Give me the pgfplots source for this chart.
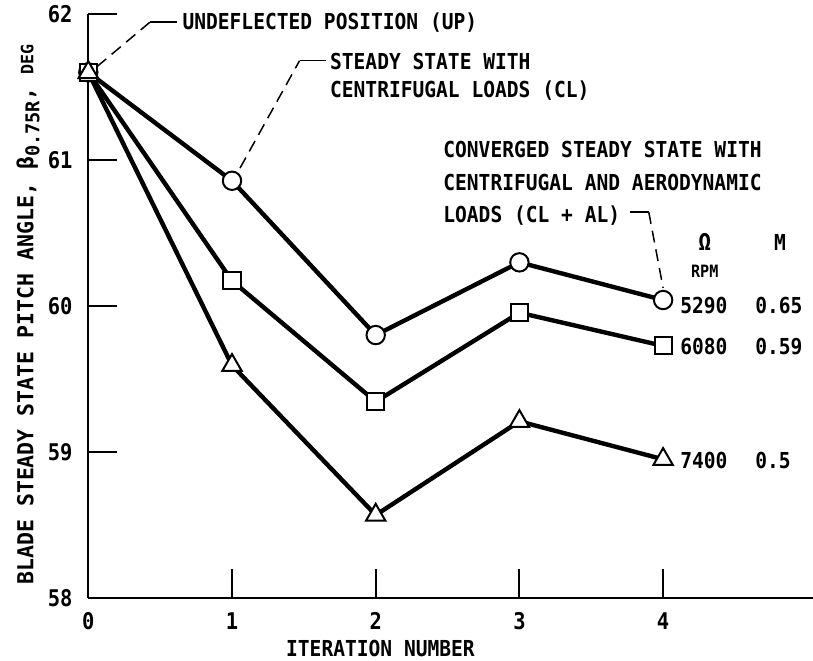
\documentclass[border=0pt]{standalone}
\usepackage{fontspec}
\setmainfont{DejaVu Sans Mono}[FakeStretch=0.89]
\usepackage{pgfplots}
\pgfplotsset{compat=1.18}
\begin{document}
\fontsize{11}{13}\selectfont\bfseries
\begin{tikzpicture}
\useasboundingbox (-44.15pt,-31pt) rectangle (362.35pt,299pt);
\begin{axis}[
  scale only axis, width=362.35pt, height=292pt,
  xmin=0, xmax=5.043, ymin=58, ymax=62,
  axis x line*=bottom, axis y line*=left,
  axis line style={line width=1pt,-},
  xtick={0,1,2,3,4}, ytick={58,59,60,61,62},
  tick align=inside, major tick length=14.5pt,
  tick style={line width=1pt, black},
  /pgf/number format/assume math mode=true,
  ticklabel style={font=\fontsize{11.5}{13}\selectfont\bfseries},
  xticklabel style={yshift=-3.5pt},
  yticklabel style={xshift=-4pt},
  clip=false,
  every axis plot/.append style={line width=2.2pt, black},
]
\addplot[mark=*, mark size=4.6pt, mark options={fill=white, line width=1pt, solid}]
  coordinates {(0,61.60) (1,60.858) (2,59.801) (3,60.299) (4,60.041)};
\addplot[mark=square*, mark size=4.3pt, mark options={fill=white, line width=1pt, solid}]
  coordinates {(0,61.60) (1,60.173) (2,59.345) (3,59.954) (4,59.727)};
\addplot[mark=triangle*, mark size=5.6pt, mark options={fill=white, line width=1pt, solid}]
  coordinates {(0,61.60) (1,59.594) (2,58.568) (3,59.21) (4,58.95)};

% annotation 1
\draw[line width=0.75pt, dash pattern=on 6pt off 3.5pt] (axis cs:0.061,61.64) -- (axis cs:0.43,61.945);
\draw[line width=0.75pt] (axis cs:0.43,61.945) -- (axis cs:0.617,61.945);
\node[anchor=base west, inner sep=0] at (axis cs:0.653,61.894) {UNDEFLECTED POSITION (UP)};
% annotation 2
\draw[line width=0.75pt, dash pattern=on 6pt off 3.5pt] (axis cs:1.056,60.945) -- (axis cs:1.47,61.68);
\draw[line width=0.75pt] (axis cs:1.47,61.68) -- (axis cs:1.653,61.68);
\node[anchor=base west, inner sep=0] at (axis cs:1.68,61.62) {STEADY STATE WITH};
\node[anchor=base west, inner sep=0] at (axis cs:1.68,61.428) {CENTRIFUGAL LOADS (CL)};
% annotation 3
\node[anchor=base west, inner sep=0] at (axis cs:2.468,61.017) {CONVERGED STEADY STATE WITH};
\node[anchor=base west, inner sep=0] at (axis cs:2.468,60.791) {CENTRIFUGAL AND AERODYNAMIC};
\node[anchor=base west, inner sep=0] at (axis cs:2.468,60.572) {LOADS (CL + AL)};
\draw[line width=0.75pt] (axis cs:3.77,60.644) -- (axis cs:3.9,60.644);
\draw[line width=0.75pt, dash pattern=on 6pt off 3.5pt] (axis cs:3.9,60.644) -- (axis cs:4.0,60.123);
% column heads
\node[anchor=base, inner sep=0] at (axis cs:4.29,60.38) {\fontsize{12}{13}\selectfont Ω};
\node[anchor=base, inner sep=0] at (axis cs:4.813,60.38) {M};
\node[anchor=base, inner sep=0, font=\fontsize{8.5}{10}\selectfont\bfseries] at (axis cs:4.29,60.192) {RPM};
% rows
\node[anchor=base west, inner sep=0] at (axis cs:4.117,59.952) {5290};
\node[anchor=base west, inner sep=0] at (axis cs:4.639,59.952) {0.65};
\node[anchor=base west, inner sep=0] at (axis cs:4.117,59.671) {6080};
\node[anchor=base west, inner sep=0] at (axis cs:4.639,59.671) {0.59};
\node[anchor=base west, inner sep=0] at (axis cs:4.117,58.89) {7400};
\node[anchor=base west, inner sep=0] at (axis cs:4.639,58.89) {0.5};
% axis labels
\node[anchor=base, inner sep=0] at (axis cs:2.033,57.596) {ITERATION NUMBER};
\node[rotate=90, inner sep=0] at (axis cs:-0.419,59.94)
  {\scalebox{1.1}[1]{BLADE STEADY STATE PITCH ANGLE, β\raisebox{-0.5ex}{\fontsize{9.5}{9}\selectfont 0.75R}, {\fontsize{8.5}{9}\selectfont DEG}}};
\end{axis}
\end{tikzpicture}
\end{document}
